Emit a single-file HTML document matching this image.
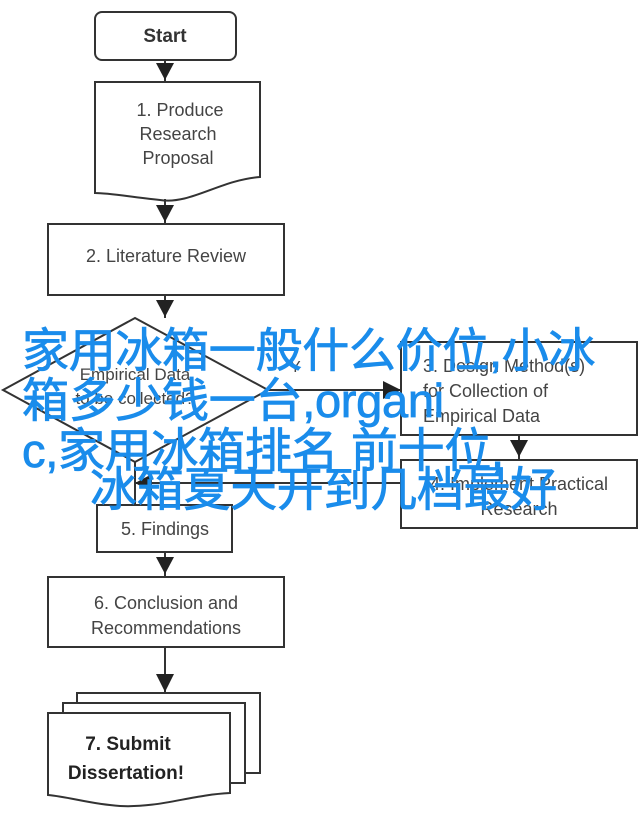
<!DOCTYPE html>
<html><head><meta charset="utf-8"><style>
html,body{margin:0;padding:0;background:#fff;width:640px;height:814px;overflow:hidden;position:relative}
svg{position:absolute;left:0;top:0}
.cn{position:absolute;font-family:"Liberation Sans","Noto Sans CJK SC",sans-serif;font-size:47px;color:#1a8ceb;white-space:nowrap;line-height:1;letter-spacing:-0.3px;-webkit-text-stroke:0.8px #1a8ceb}
</style></head><body>
<svg width="640" height="814" viewBox="0 0 640 814" font-family="Liberation Sans, sans-serif" fill="none" stroke="#333" stroke-width="2">
<rect x="95" y="12" width="141" height="48" rx="7" fill="#fff"/>
<text x="165" y="42" text-anchor="middle" font-size="19" font-weight="bold" fill="#333" stroke="none">Start</text>
<line x1="165" y1="60" x2="165" y2="82"/>
<polygon points="156,63 174,63 165,80" fill="#222" stroke="none"/>
<path d="M95,82 H260 V177 C220,180 190,205 160,200 C130,197 110,193 95,193 Z" fill="#fff"/>
<g fill="#444" stroke="none" font-size="18" text-anchor="middle">
<text x="180" y="116">1. Produce</text><text x="178" y="140">Research</text><text x="178" y="164">Proposal</text></g>
<line x1="165" y1="199" x2="165" y2="224"/>
<polygon points="156,205 174,205 165,222" fill="#222" stroke="none"/>
<rect x="48" y="224" width="236" height="71" fill="#fff"/>
<text x="166" y="262" text-anchor="middle" font-size="18" fill="#444" stroke="none">2. Literature Review</text>
<line x1="165" y1="295" x2="165" y2="318"/>
<polygon points="156,300 174,300 165,317" fill="#222" stroke="none"/>
<polygon points="135,318 268,390 135,462 3,390" fill="#fff"/>
<text x="135" y="380" text-anchor="middle" font-size="17" fill="#444" stroke="none">Empirical Data</text>
<text x="135" y="404" text-anchor="middle" font-size="17" fill="#444" stroke="none">to be collected?</text>
<text x="290" y="372" font-size="16" fill="#444" stroke="none">Y</text>
<line x1="268" y1="390" x2="401" y2="390"/>
<polygon points="383,381 401,390 383,399" fill="#222" stroke="none"/>
<rect x="401" y="342" width="236" height="93" fill="#fff"/>
<g fill="#444" stroke="none" font-size="18"><text x="423" y="372">3. Design Method(s)</text><text x="423" y="397">for Collection of</text><text x="423" y="422">Empirical Data</text></g>
<line x1="519" y1="435" x2="519" y2="460"/>
<polygon points="510,440 528,440 519,457" fill="#222" stroke="none"/>
<rect x="401" y="460" width="236" height="68" fill="#fff"/>
<g fill="#444" stroke="none" font-size="18" text-anchor="middle"><text x="519" y="490">4. Implement Practical</text><text x="519" y="515">Research</text></g>
<line x1="401" y1="483" x2="135" y2="483"/>
<polygon points="152,474 135,483 152,492" fill="#222" stroke="none"/>
<line x1="135" y1="462" x2="135" y2="505"/>
<rect x="97" y="505" width="135" height="47" fill="#fff"/>
<text x="165" y="535" text-anchor="middle" font-size="18" fill="#444" stroke="none">5. Findings</text>
<line x1="165" y1="552" x2="165" y2="577"/>
<polygon points="156,557 174,557 165,574" fill="#222" stroke="none"/>
<rect x="48" y="577" width="236" height="70" fill="#fff"/>
<g fill="#444" stroke="none" font-size="18" text-anchor="middle"><text x="166" y="609">6. Conclusion and</text><text x="166" y="634">Recommendations</text></g>
<line x1="165" y1="647" x2="165" y2="693"/>
<polygon points="156,674 174,674 165,692" fill="#222" stroke="none"/>
<rect x="77" y="693" width="183" height="80" fill="#fff"/>
<rect x="63" y="703" width="182" height="80" fill="#fff"/>
<path d="M48,713 H230 V793 C190,795 160,808 120,806 C90,804 70,797 48,795 Z" fill="#fff"/>
<g fill="#222" stroke="none" font-size="19" font-weight="bold" text-anchor="middle"><text x="128" y="750">7. Submit</text><text x="126" y="779">Dissertation!</text></g>
</svg>
<div class="cn" style="left:22px;top:327px">家用冰箱一般什么价位,小冰</div>
<div class="cn" style="left:22px;top:377px">箱多少钱一台,organi</div>
<div class="cn" style="left:22px;top:427px">c,家用冰箱排名 前十位,</div>
<div class="cn" style="left:90px;top:466px">冰箱夏天开到几档最好</div>
</body></html>
